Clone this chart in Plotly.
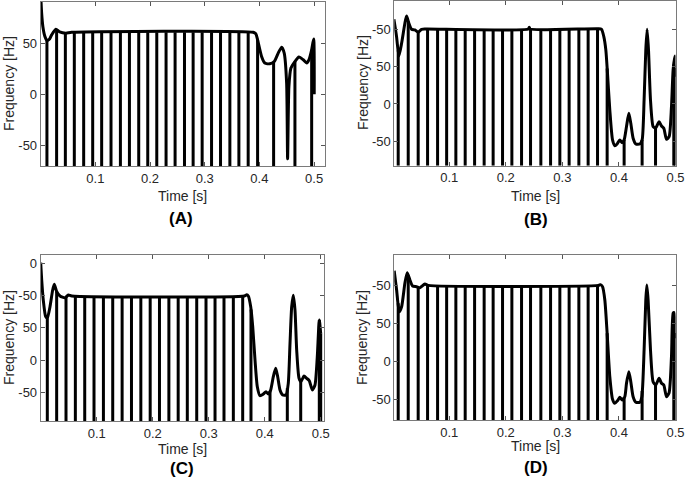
import numpy as np
import plotly.graph_objects as go

# ---------------- data ----------------
# Panel A
t_A = [0.0, 0.0017, 0.004, 0.0077, 0.0114, 0.0163, 0.02, 0.0278, 0.0346, 0.046, 0.0566,
       0.3886, 0.3936, 0.3967, 0.404, 0.41, 0.4192, 0.4271, 0.4344, 0.4407, 0.4454, 0.4498,
       0.4516, 0.454, 0.4577, 0.465, 0.4723, 0.4802, 0.4864, 0.4906, 0.4956, 0.4993, 0.5003]
f_A = [98, 79.5, 66, 56.4, 52.5, 54, 58, 63.6, 61, 59.7, 60.5,
       60.5, 59, 53.2, 37, 30.5, 29.8, 32, 40.2, 46, 40.2, 11,
       -63, 7.7, 25.6, 32, 36.4, 33.7, 30.5, 33.7, 43.5, 53.9, 0]
spikes_A = [0.0114, 0.0291, 0.0451, 0.0615, 0.0786, 0.0951, 0.1115, 0.1286, 0.1458, 0.1623,
            0.1793, 0.1958, 0.2123, 0.2293, 0.2458, 0.2630, 0.2788, 0.2953, 0.3125, 0.3289,
            0.3460, 0.3625, 0.3795, 0.3967, 0.4260, 0.4650, 0.4956]

# Panel B
t_B = [0.0023, 0.007, 0.0111, 0.0159, 0.0217, 0.0247, 0.0288, 0.0336, 0.0394, 0.0452, 0.0512,
       0.06, 0.24, 0.2415, 0.243, 0.3633, 0.3693, 0.3733, 0.3769, 0.3798, 0.3839, 0.3887,
       0.3928, 0.3968, 0.4016, 0.4057, 0.4092, 0.4134, 0.4175, 0.421, 0.4251, 0.4299, 0.4369,
       0.441, 0.4445, 0.4475, 0.4498, 0.4523, 0.4558, 0.4604, 0.4647, 0.471, 0.4753, 0.4793,
       0.4841, 0.4887, 0.4929, 0.4958, 0.4988, 0.5]
f_B = [113, 89.9, 64, 81, 107.7, 117.5, 107.7, 99.7, 98.8, 95.7, 99.7,
       100, 100, 102.5, 100, 100.5, 99.7, 89.9, 72, 41, -8, -48,
       -55.7, -53.4, -48, -51.7, -48, -30, -12.4, -25.8, -45.8, -53.4, -53.4,
       -48, 5.3, 72, 99.7, 72, 5.3, -30, -32.4, -23.6, -29.4, -32.4,
       -47.1, -43.7, -3.6, 45.4, 64, 36.4]
spikes_B = [0.0099, 0.0276, 0.0452, 0.0618, 0.0795, 0.0955, 0.1118, 0.1283, 0.1449, 0.1618,
            0.1777, 0.1943, 0.2108, 0.2279, 0.2438, 0.2620, 0.2792, 0.2956, 0.3120, 0.3292,
            0.3456, 0.3622, 0.3792, 0.4092, 0.4410, 0.4647, 0.4970, 0.4995]

# Panel C
t_C = [0.0, 0.0018, 0.0046, 0.0089, 0.0118, 0.0166, 0.0214, 0.0243, 0.0286, 0.0345, 0.0434,
       0.0493, 0.0554, 0.3640, 0.3679, 0.3707, 0.375, 0.3786, 0.3827, 0.3868, 0.3916, 0.3975, 0.4023,
       0.4064, 0.4107, 0.4154, 0.4196, 0.4232, 0.4273, 0.4321, 0.438, 0.4421, 0.4452, 0.4482,
       0.4511, 0.4541, 0.4571, 0.4613, 0.4648, 0.4702, 0.475, 0.4796, 0.485, 0.4898, 0.4939,
       0.4975, 0.5]
f_C = [151.6, 124.6, 93.5, 67.5, 65, 83, 109, 117.9, 106.4, 99.7, 97,
       101.2, 99.7, 99.7, 101.5, 99.7, 83, 51.9, 0, -41.5, -55.6, -53, -49.4,
       -53, -46.7, -26, -13, -26, -46.7, -54.5, -54.5, -36.3, 26, 83,
       101, 77.9, 15.6, -28.5, -33.8, -24.9, -28.5, -32.2, -46.7, -38.9, 5.1,
       62.3, 41.6]
spikes_C = [0.0118, 0.0285, 0.0452, 0.0619, 0.0786, 0.0952, 0.1120, 0.1286, 0.1454, 0.1621,
            0.1788, 0.1955, 0.2121, 0.2289, 0.2455, 0.2618, 0.2786, 0.2952, 0.3113, 0.3273,
            0.3440, 0.3607, 0.3755, 0.4095, 0.4404, 0.4643, 0.4975, 0.5000]

# Panel D
t_D = [0.0028, 0.0071, 0.0117, 0.0159, 0.0217, 0.0258, 0.0306, 0.0353, 0.0424, 0.0482, 0.0571,
       0.0629, 0.3640, 0.3675, 0.371, 0.3751, 0.3792, 0.3839, 0.3887, 0.3928, 0.3975, 0.4016, 0.4057,
       0.4104, 0.4134, 0.4175, 0.421, 0.4251, 0.4299, 0.4369, 0.4405, 0.4445, 0.4475, 0.4493,
       0.4516, 0.4558, 0.4604, 0.4652, 0.471, 0.4753, 0.4793, 0.4841, 0.4887, 0.4929, 0.4958,
       0.4975, 0.5]
f_D = [118.8, 93.4, 64.9, 71.4, 102.2, 116.2, 106.6, 98.7, 97.8, 96.4, 101.3,
       99.5, 99.5, 100.5, 97.8, 80.3, 36.4, -20.6, -50.4, -55.7, -52.2, -47.8, -51.3,
       -47, -29.3, -14, -27.2, -47, -54.3, -54.3, -47, 14.5, 80.3, 100,
       80.3, 14.5, -27.2, -31.6, -22.8, -29.3, -31.6, -47, -41.7, 5.7, 62.8,
       63.6, 30]
spikes_D = [0.0099, 0.0276, 0.0452, 0.0618, 0.0795, 0.0955, 0.1118, 0.1283, 0.1449, 0.1618,
            0.1777, 0.1943, 0.2108, 0.2279, 0.2438, 0.2620, 0.2792, 0.2956, 0.3120, 0.3292,
            0.3456, 0.3622, 0.3792, 0.4092, 0.4410, 0.4647, 0.4970, 0.4995]

x_tick_vals = [0.1, 0.2, 0.3, 0.4, 0.5]
x_tick_text = ["0.1", "0.2", "0.3", "0.4", "0.5"]
y_tick_vals_A = [-50, 0, 50]
y_tick_text_A = ["-50", "0", "50"]
y_tick_vals_BD = [-50, 0, 50, 100]
y_tick_text_BD = ["-50", "0", "50", "-50"]
y_tick_vals_C = [-50, 0, 50, 100, 150]
y_tick_text_C = ["-50", "0", "50", "-50", "0"]
panel_labels = ["(A)", "(B)", "(C)", "(D)"]

# ---------------- layout geometry ----------------
W, H = 685, 482

def dom_x(a, b):
    return [a / W, b / W]

def dom_y(top, bottom):
    return [1 - bottom / H, 1 - top / H]

panels = [
    dict(t=t_A, f=f_A, s=spikes_A, xr=[0.0, 0.52], yr=[-70, 90.1], xd=dom_x(40.7, 325), yd=dom_y(2, 166),
         tv=y_tick_vals_A, tt=y_tick_text_A),
    dict(t=t_B, f=f_B, s=spikes_B, xr=[0.003, 0.5], yr=[-82.4, 137.5], xd=dom_x(394.3, 675.5), yd=dom_y(1, 165.7),
         tv=y_tick_vals_BD, tt=y_tick_text_BD),
    dict(t=t_C, f=f_C, s=spikes_C, xr=[0.0, 0.505], yr=[-95, 163.6], xd=dom_x(40.7, 323.5), yd=dom_y(255, 421),
         tv=y_tick_vals_C, tt=y_tick_text_C),
    dict(t=t_D, f=f_D, s=spikes_D, xr=[0.003, 0.5], yr=[-78, 139.5], xd=dom_x(394.3, 675.5), yd=dom_y(255, 420.3),
         tv=y_tick_vals_BD, tt=y_tick_text_BD),
]

FONT = "Liberation Sans, Arial, sans-serif"
fig = go.Figure()
layout = dict(width=W, height=H, margin=dict(l=0, r=0, t=0, b=0, autoexpand=False),
              paper_bgcolor="white", plot_bgcolor="white", showlegend=False,
              font=dict(family=FONT, size=13, color="#262626"))

for i, p in enumerate(panels):
    n = "" if i == 0 else str(i + 1)
    xa, ya = "x" + n, "y" + n
    ymin = p["yr"][0]
    # vertical drop lines from the curve to the bottom of the axis
    sx, sy = [], []
    for t in p["s"]:
        v = float(np.interp(t, p["t"], p["f"]))
        sx += [t, t, None]
        sy += [v, ymin, None]
    fig.add_trace(go.Scatter(x=sx, y=sy, mode="lines", xaxis=xa, yaxis=ya,
                             line=dict(color="black", width=3), hoverinfo="skip"))
    fig.add_trace(go.Scatter(x=p["t"], y=p["f"], mode="lines", xaxis=xa, yaxis=ya,
                             line=dict(color="black", width=3, shape="spline", smoothing=0.6)))
    common = dict(showline=True, mirror="ticks", linecolor="#7a7a7a", linewidth=1,
                  ticks="inside", ticklen=4, tickcolor="#555555", showgrid=False, zeroline=False,
                  automargin=False,
                  tickfont=dict(family=FONT, size=13, color="#262626"))
    layout["xaxis" + n] = dict(domain=p["xd"], range=p["xr"], anchor=ya,
                               tickvals=x_tick_vals, ticktext=x_tick_text, **common)
    layout["yaxis" + n] = dict(domain=p["yd"], range=p["yr"], anchor=xa,
                               tickvals=p["tv"], ticktext=p["tt"], **common)

ann = []
# y titles
for (xp, yp) in [(9, 84), (363, 83), (9, 338), (362, 338)]:
    ann.append(dict(text="Frequency [Hz]", x=xp / W, y=1 - yp / H, xref="paper", yref="paper",
                    showarrow=False, textangle=-90, font=dict(family=FONT, size=14, color="#262626"),
                    xanchor="center", yanchor="middle"))
# x titles
for (xp, yp) in [(182, 195.5), (535, 196), (182, 449), (535, 446)]:
    ann.append(dict(text="Time [s]", x=xp / W, y=1 - yp / H, xref="paper", yref="paper",
                    showarrow=False, font=dict(family=FONT, size=14, color="#262626"),
                    xanchor="center", yanchor="middle"))
# panel labels
for lab, (xp, yp) in zip(panel_labels, [(181, 219), (536, 220), (182, 468), (536, 467)]):
    ann.append(dict(text="<b>" + lab + "</b>", x=xp / W, y=1 - yp / H, xref="paper", yref="paper",
                    showarrow=False, font=dict(family=FONT, size=17, color="black"),
                    xanchor="center", yanchor="middle"))
layout["annotations"] = ann
fig.update_layout(**layout)
fig.write_html("out.html", config={"displayModeBar": False},
               post_script="document.body.style.margin='0';document.body.style.overflow='hidden';")
